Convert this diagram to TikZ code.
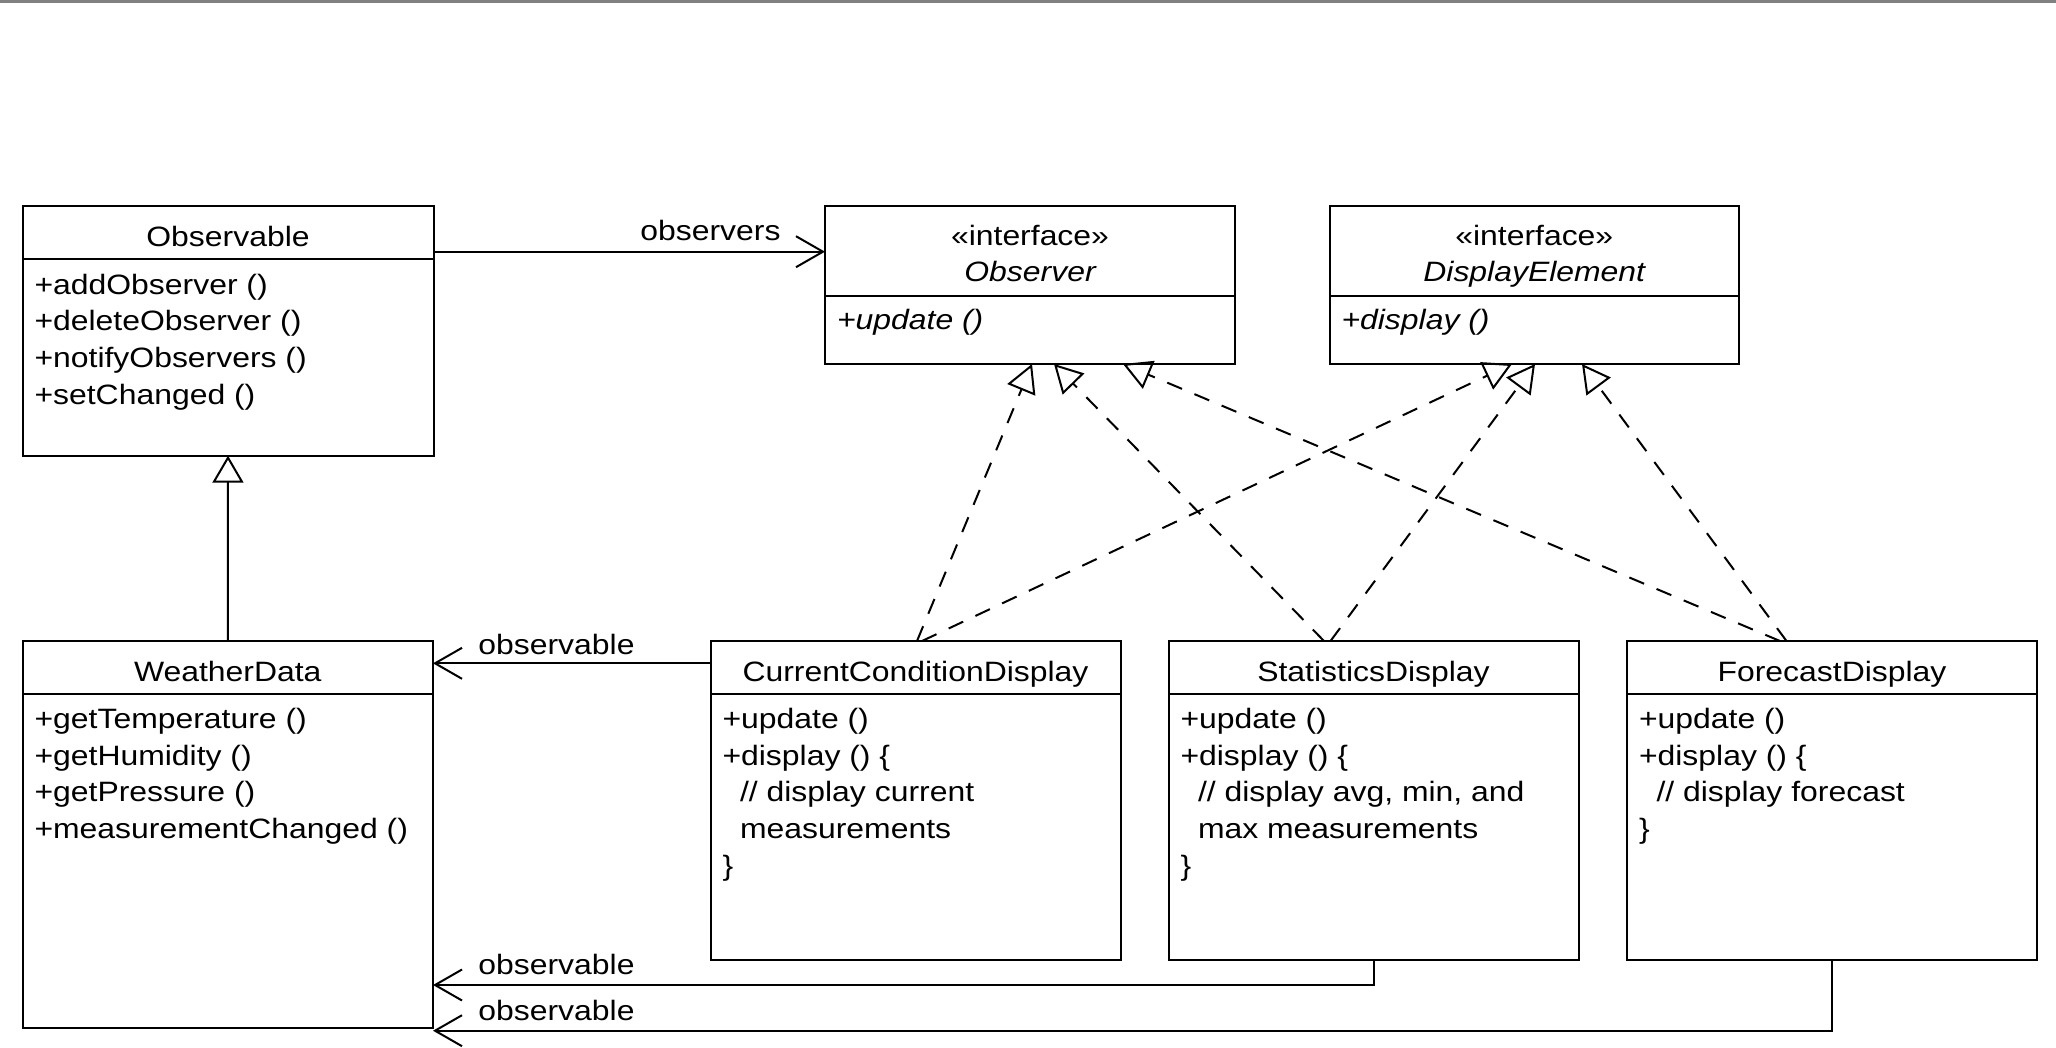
\documentclass[tikz,border=0pt]{standalone}
\usepackage{fontspec}
\setmainfont{Liberation Sans}[FakeStretch=1.14]
\usetikzlibrary{arrows.meta,calc}
\begin{document}
\begin{tikzpicture}[x=1pt,y=-1pt,
  box/.style={draw,line width=2pt,inner sep=0pt,outer sep=0pt,anchor=north west},
  txt/.style={inner sep=0pt,outer sep=0pt,font=\fontsize{28}{36.7}\selectfont},
  ln/.style={txt,anchor=base west},
  hd/.style={txt,anchor=base},
  divider/.style={line width=2pt},
  assoc/.style={line width=2pt,-{Straight Barb[length=27pt,width=31pt]}},
  gen/.style={line width=2pt,-{Triangle[open,length=27pt,width=31pt]}},
  real/.style={line width=2pt,dash pattern=on 16pt off 13.5pt,-{Triangle[open,length=28pt,width=30pt]}}
]
\useasboundingbox (0,0) rectangle (2056,1047);
\fill[white] (0,0) rectangle (2056,1047);
\fill[black!50] (0,0) rectangle (2056,2.5);

% boxes
\node[box,minimum width=411pt,minimum height=250pt] (obs) at (22.5,205.7) {};
\node[box,minimum width=410pt,minimum height=158.3pt] (observer) at (825,205.7) {};
\node[box,minimum width=409.5pt,minimum height=158.3pt] (de) at (1329.5,205.7) {};
\node[box,minimum width=410.5pt,minimum height=387pt] (wd) at (22.5,641) {};
\node[box,minimum width=410pt,minimum height=319pt] (ccd) at (710.5,641) {};
\node[box,minimum width=410pt,minimum height=319pt] (sd) at (1168.5,641) {};
\node[box,minimum width=410pt,minimum height=319pt] (fd) at (1627,641) {};

% dividers
\draw[divider] ($(obs.north west)+(0,53.3)$) -- ($(obs.north east)+(0,53.3)$);
\draw[divider] ($(observer.north west)+(0,90.3)$) -- ($(observer.north east)+(0,90.3)$);
\draw[divider] ($(de.north west)+(0,90.3)$) -- ($(de.north east)+(0,90.3)$);
\draw[divider] ($(wd.north west)+(0,52.5)$) -- ($(wd.north east)+(0,52.5)$);
\draw[divider] ($(ccd.north west)+(0,52.5)$) -- ($(ccd.north east)+(0,52.5)$);
\draw[divider] ($(sd.north west)+(0,52.5)$) -- ($(sd.north east)+(0,52.5)$);
\draw[divider] ($(fd.north west)+(0,52.5)$) -- ($(fd.north east)+(0,52.5)$);

% Observable
\node[hd] (obsT) at (228,246) {Observable};
\node[ln] (obs1) at (34.5,294) {+addObserver ()};
\node[ln] (obs2) at (34.5,330.7) {+deleteObserver ()};
\node[ln] (obs3) at (34.5,367.4) {+notifyObservers ()};
\node[ln] (obs4) at (34.5,404.1) {+setChanged ()};

% Observer
\node[hd] (observerS) at (1030,245) {«interface»};
\node[hd] (observerT) at (1030,281.7) {\itshape Observer};
\node[ln] (observer1) at (837,329) {\itshape +update ()};

% DisplayElement
\node[hd] (deS) at (1534.25,245) {«interface»};
\node[hd] (deT) at (1534.25,281.7) {\itshape DisplayElement};
\node[ln] (de1) at (1341.5,329) {\itshape +display ()};

% WeatherData
\node[hd] (wdT) at (227.75,681) {WeatherData};
\node[ln] (wd1) at (34.5,728.5) {+getTemperature ()};
\node[ln] (wd2) at (34.5,765.2) {+getHumidity ()};
\node[ln] (wd3) at (34.5,801.9) {+getPressure ()};
\node[ln] (wd4) at (34.5,838.6) {+measurementChanged ()};

% CurrentConditionDisplay
\node[hd] (ccdT) at (915.5,681) {CurrentConditionDisplay};
\node[ln] (ccd1) at (722.5,728.5) {+update ()};
\node[ln] (ccd2) at (722.5,765.2) {+display () \{};
\node[ln] (ccd3) at (722.5,801.9) {\hspace*{17.5pt}// display current};
\node[ln] (ccd4) at (722.5,838.6) {\hspace*{17.5pt}measurements};
\node[ln] (ccd5) at (722.5,875.3) {\}};

% StatisticsDisplay
\node[hd] (sdT) at (1373.5,681) {StatisticsDisplay};
\node[ln] (sd1) at (1180.5,728.5) {+update ()};
\node[ln] (sd2) at (1180.5,765.2) {+display () \{};
\node[ln] (sd3) at (1180.5,801.9) {\hspace*{17.5pt}// display avg, min, and};
\node[ln] (sd4) at (1180.5,838.6) {\hspace*{17.5pt}max measurements};
\node[ln] (sd5) at (1180.5,875.3) {\}};

% ForecastDisplay
\node[hd] (fdT) at (1832,681) {ForecastDisplay};
\node[ln] (fd1) at (1639,728.5) {+update ()};
\node[ln] (fd2) at (1639,765.2) {+display () \{};
\node[ln] (fd3) at (1639,801.9) {\hspace*{17.5pt}// display forecast};
\node[ln] (fd4) at (1639,838.6) {\}};

% associations
\draw[assoc] ($(obs.north east)+(0,46)$) -- ($(observer.north west)+(0,46)$);
\node[txt,anchor=base east] (lobservers) at (780.5,240.7) {observers};

\draw[assoc] ($(ccd.north west)+(0,22.3)$) -- ($(wd.north east)+(0,22.3)$);
\node[ln] (lobs1) at (478.4,654) {observable};

\draw[assoc] (sd.south) |- ($(wd.south east)+(0,-43)$);
\node[ln] (lobs2) at (478.4,974) {observable};

\draw[assoc] (fd.south) |- ($(wd.south east)+(0,2.7)$);
\node[ln] (lobs3) at (478.4,1020) {observable};

% generalization
\draw[gen] (wd.north) -- (obs.south);

% realizations
\draw[real] ($(ccd.north)+(1.5,0)$) -- ($(observer.south west)+(207,0)$);
\draw[real] ($(ccd.north)+(6.5,0)$) -- ($(de.south west)+(182.5,0)$);
\draw[real] ($(sd.north)+(-49.5,0)$) -- ($(observer.south west)+(229,0)$);
\draw[real] ($(sd.north)+(-43,0)$) -- ($(de.south west)+(205.5,0)$);
\draw[real] ($(fd.north)+(-52,0)$) -- ($(observer.south west)+(298,0)$);
\draw[real] ($(fd.north)+(-45.5,0)$) -- ($(de.south west)+(252.5,0)$);
\end{tikzpicture}
\end{document}
